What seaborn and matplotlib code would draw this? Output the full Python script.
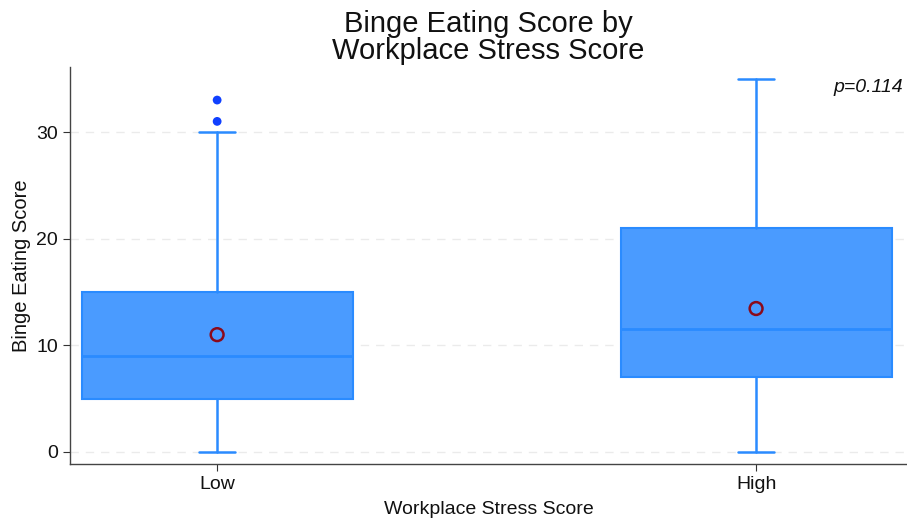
import matplotlib
matplotlib.use("Agg")
import matplotlib.pyplot as plt
import seaborn as sns
import pandas as pd

categories = ["Low", "High"]
whisker_low = [0, 0]
q1 = [5, 7]
median = [9, 11.5]
q3 = [15, 21]
whisker_high = [30, 35]
means = [11.0, 13.45]
outlier_cat = ["Low", "Low"]
outlier_vals = [31, 33]
yticks = [0, 10, 20, 30]
p_text = "p=0.114"

sns.set_style("white")
plt.rcParams['font.family'] = ['Liberation Sans', 'DejaVu Sans']

fig = plt.figure(figsize=(9.07, 5.22), dpi=100)
ax = fig.add_axes([70/907, 58/522, 837/907, 397/522])

fill = "#4A9BFF"
edge = "#2A8BFF"

stats = []
for i, c in enumerate(categories):
    stats.append(dict(label=c, whislo=whisker_low[i], q1=q1[i], med=median[i],
                      q3=q3[i], whishi=whisker_high[i], fliers=[]))
ax.bxp(stats, positions=range(len(categories)), widths=0.503, patch_artist=True,
       showfliers=False,
       boxprops=dict(facecolor=fill, edgecolor=edge, linewidth=1.5),
       medianprops=dict(color=edge, linewidth=2),
       whiskerprops=dict(color=edge, linewidth=1.8),
       capprops=dict(color=edge, linewidth=1.8), capwidths=0.067)

pos = {c: i for i, c in enumerate(categories)}
df_out = pd.DataFrame({"x": [pos[c] for c in outlier_cat], "y": outlier_vals})
sns.scatterplot(data=df_out, x="x", y="y", ax=ax, color="#1040FF", s=40,
                edgecolor="none", zorder=5)
df_mean = pd.DataFrame({"x": [pos[c] for c in categories], "y": means})
sns.scatterplot(data=df_mean, x="x", y="y", ax=ax, marker="o", s=85,
                facecolor="none", edgecolor="#8B0A1A", linewidth=1.8, zorder=6)

ax.set_xlim(-0.273, 1.28)
ax.set_ylim(-1.13, 36.1)
ax.set_yticks(yticks)
ax.set_yticklabels([str(t) for t in yticks], fontsize=14)
ax.set_xticks(range(len(categories)))
ax.set_xticklabels(categories, fontsize=14)
ax.yaxis.grid(True, linestyle=(0, (6, 5)), color="#EBEBEB", linewidth=1)
ax.xaxis.grid(False)
ax.set_axisbelow(True)
for s in ["top", "right"]:
    ax.spines[s].set_visible(False)
for s in ["left", "bottom"]:
    ax.spines[s].set_color("#444444")
    ax.spines[s].set_linewidth(1.0)
ax.tick_params(axis="both", which="both", length=5, color="#333333",
               direction="out", left=True, bottom=True, labelcolor="#111111")
ax.set_xlabel("Workplace Stress Score", fontsize=14, labelpad=6, color="#111111")
ax.set_ylabel("Binge Eating Score", fontsize=14.5, labelpad=4, color="#111111")
ax.set_title("Binge Eating Score by\nWorkplace Stress Score", fontsize=21, pad=6,
             linespacing=0.95, color="#111111")
ax.text(0.995, 0.97, p_text, transform=ax.transAxes, ha="right", va="top",
        fontsize=14, style="italic", color="#111111")

fig.savefig("out.png", dpi=100)
